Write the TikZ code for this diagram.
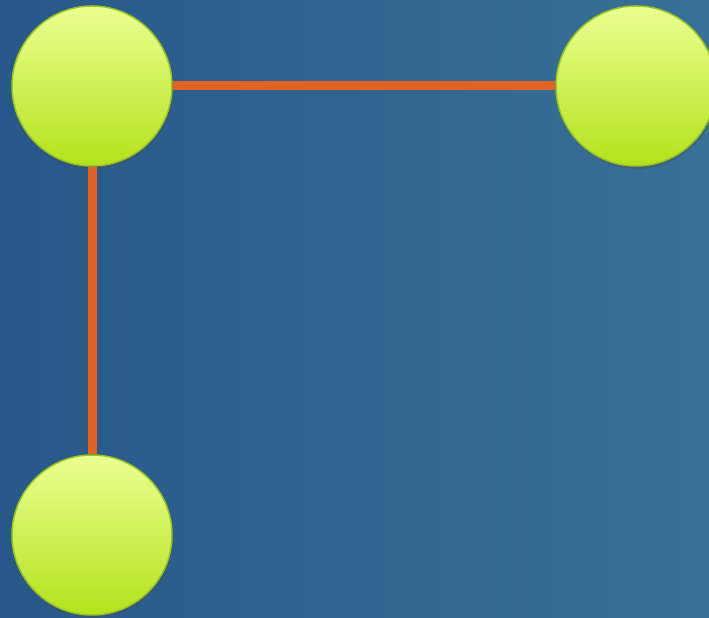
\documentclass[tikz,border=0pt]{standalone}
\usepackage{tikz}
\usetikzlibrary{positioning,shadows}
\definecolor{bgleft}{RGB}{40,88,138}
\definecolor{bgright}{RGB}{56,113,151}
\definecolor{balltop}{RGB}{235,255,145}
\definecolor{ballbottom}{RGB}{180,226,28}
\definecolor{ballrim}{RGB}{155,198,34}
\definecolor{link}{RGB}{226,98,34}
\tikzset{
ball/.style={
  circle,
  inner sep=0pt,
  minimum size=160pt,
  draw=ballrim,
  line width=1.5pt,
  top color=balltop,
  bottom color=ballbottom,
  drop shadow={shadow xshift=1pt,shadow yshift=-3pt,opacity=.35,fill=black!70}
  },
edge/.style={
  draw=link,
  line width=9pt
  }
}
\pgfdeclarelayer{background}
\pgfsetlayers{background,main}

\begin{document}
\begin{tikzpicture}[x=1pt,y=1pt]
\fill[left color=bgleft,right color=bgright] (0,0) rectangle (709,618);
\useasboundingbox (0,0) rectangle (709,618);

\node[ball] (topleft) at (92,532) {};
\node[ball] (topright) at (636,532) {};
\node[ball] (bottomleft) at (92,83) {};

\draw[edge] (topleft) -- (topright);
\draw[edge] (topleft) -- (bottomleft);

\end{tikzpicture}
\end{document}
